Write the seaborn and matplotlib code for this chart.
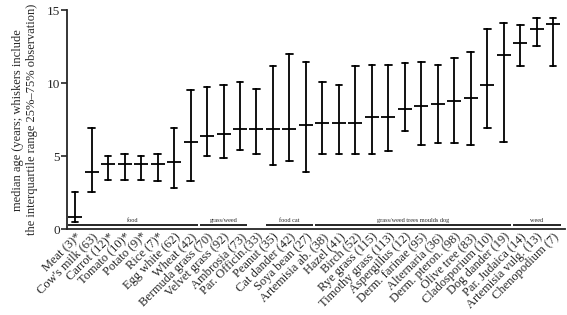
import seaborn as sns
import pandas as pd
import matplotlib.pyplot as plt

# categories with number of patients, * marks the small groups
labels = ["Meat (3)*", "Cow's milk (63)", "Carrot (12)*", "Tomato (10)*", "Potato (9)*",
          "Rice (7)*", "Egg white (62)", "Wheat (42)", "Bermuda grass (70)", "Velvet grass (92)",
          "Ambrosia (73)", "Par. Officin.(33)", "Peanut (35)", "Cat dander (42)", "Soya bean (27)",
          "Artemisia ab. (38)", "Hazel (41)", "Birch (52)", "Rye grass (115)", "Timothy grass (113)",
          "Aspergillus (12)", "Derm. farinae (95)", "Alternaria (36)", "Derm. pteron. (98)",
          "Olive tree (83)", "Cladosporium (10)", "Dog dander (19)", "Par. Judaica (14)",
          "Artemisia vulg. (13)", "Chenopodium (7)"]
median = [0.86, 3.95, 4.5, 4.5, 4.5, 4.5, 4.6, 6.0, 6.4, 6.5, 6.85, 6.85, 6.85, 6.85, 7.15,
          7.25, 7.25, 7.25, 7.7, 7.7, 8.25, 8.45, 8.55, 8.8, 9.0, 9.85, 11.9, 12.75, 13.7, 14.05]
q25 = [0.52, 2.55, 3.4, 3.4, 3.4, 3.3, 2.85, 3.3, 5.0, 4.9, 5.45, 5.15, 4.4, 4.7, 3.95,
       5.15, 5.15, 5.15, 5.15, 5.35, 6.75, 5.8, 5.9, 5.9, 5.8, 6.95, 6.0, 11.15, 12.55, 11.15]
q75 = [2.55, 6.95, 5.05, 5.15, 5.05, 5.15, 6.95, 9.55, 9.75, 9.85, 10.05, 9.6, 11.15, 12.0, 11.45,
       10.05, 9.85, 11.15, 11.25, 11.25, 11.35, 11.45, 11.25, 11.7, 12.1, 13.7, 14.15, 14.0, 14.45, 14.45]

# allergen groups: (label, first index, last index)
groups = [("food", 0, 7), ("grass/weed", 8, 10), ("food cat", 12, 14),
          ("grass/weed trees moulds dog", 15, 26), ("weed", 27, 29)]

sns.set_theme(style='ticks')
plt.rcParams['font.family'] = ['Liberation Serif', 'DejaVu Serif']

rows = []
for name, lo, md, hi in zip(labels, q25, median, q75):
    for v in (lo, md, hi):
        rows.append({'allergen': name, 'age': v})
df = pd.DataFrame(rows)

fig = plt.figure(figsize=(5.67, 3.15), dpi=100)
ax = fig.add_axes([0.118, 0.272, 0.878, 0.696])

# median of (q25, median, q75) is the median; 100% interval spans q25..q75
sns.pointplot(data=df, x='allergen', y='age', order=labels,
              estimator='median', errorbar=('pi', 100),
              color='black', marker='_', markersize=10.5, markeredgewidth=1.3,
              linestyle='none', capsize=0.4,
              err_kws={'linewidth': 1.3}, ax=ax)

for name, a, b in groups:
    ax.plot([a - 0.45, b + 0.45], [0.28, 0.28], color='black', lw=1.2,
            solid_capstyle='butt')
    ax.text((a + b) / 2, 0.45, name, fontsize=4.5, ha='center', va='bottom')

ax.set_xlim(-0.5, 29.7)
ax.set_ylim(0, 15)
ax.set_yticks([0, 5, 10, 15])
ax.set_xlabel('')
ax.set_ylabel('median age (years; whiskers include\nthe interquartile range 25%\u201375% observation)',
              fontsize=9, labelpad=6)
ax.tick_params(axis='y', labelsize=9.5, width=1.2, length=4, pad=1)
ax.tick_params(axis='x', length=0, pad=1)
ax.set_xticks(range(len(labels)))
ax.set_xticklabels(labels, rotation=45, ha='right', rotation_mode='anchor', fontsize=9)
sns.despine(ax=ax)
for s in ['left', 'bottom']:
    ax.spines[s].set_linewidth(1.3)

fig.savefig('out.png', dpi=100)
